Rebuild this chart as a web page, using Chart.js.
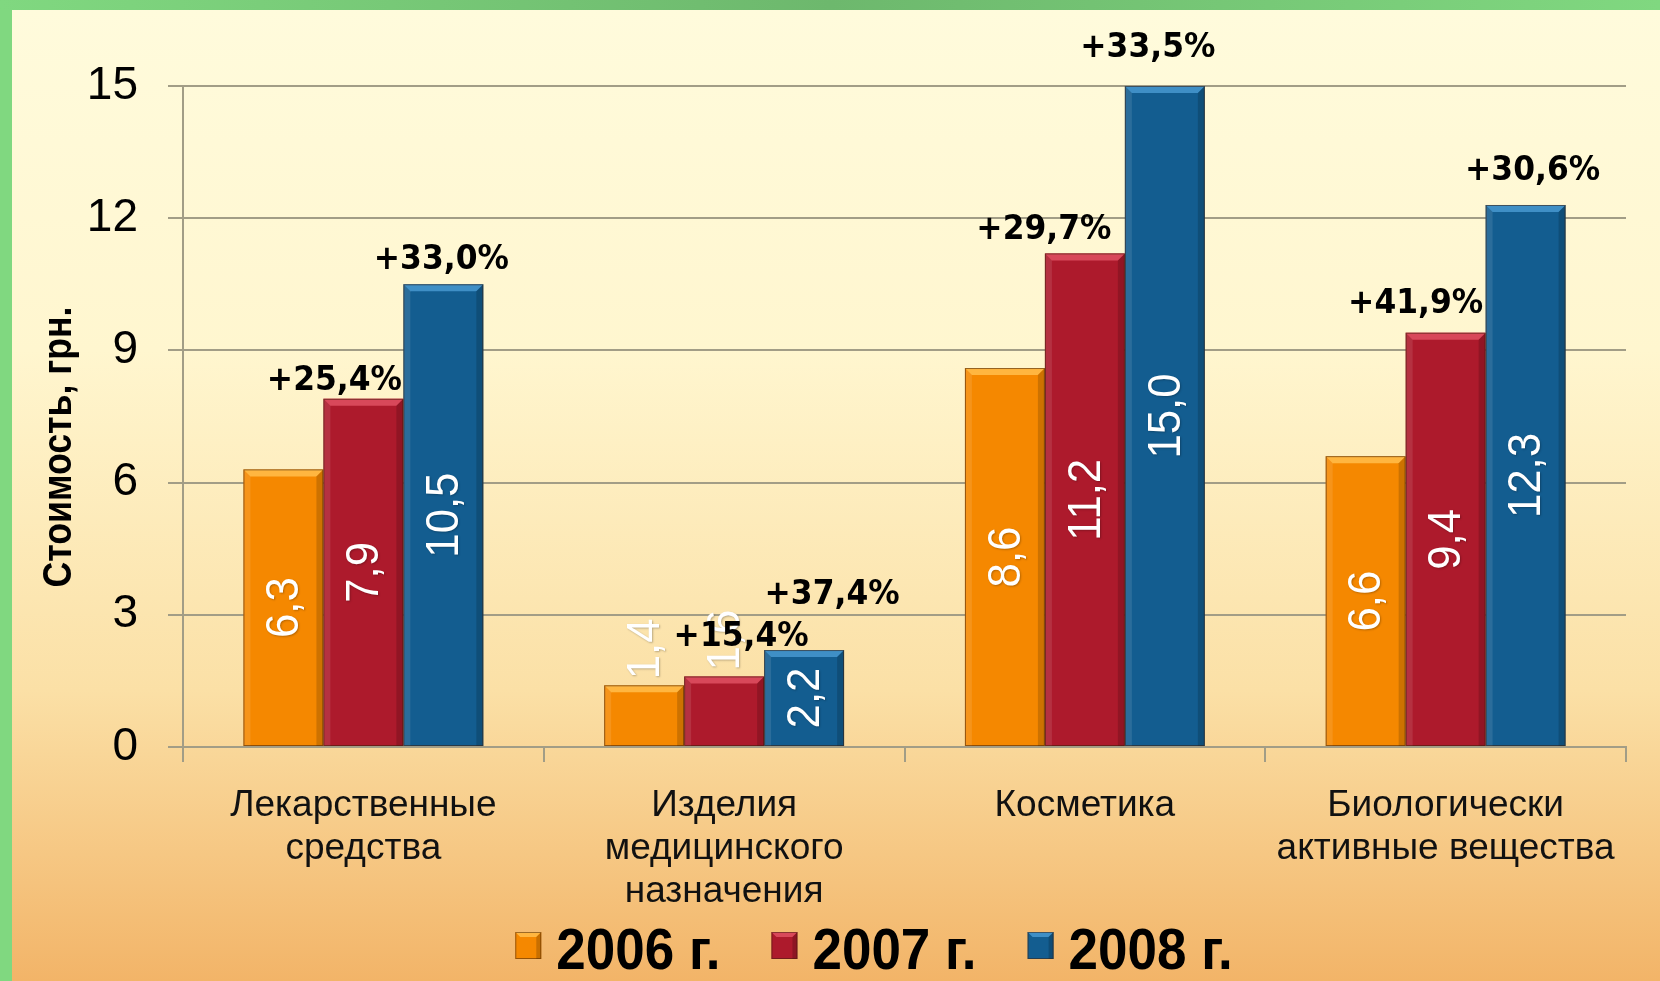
<!DOCTYPE html>
<html>
<head>
<meta charset="utf-8">
<script src="https://cdn.jsdelivr.net/npm/chart.js@4.4.1/dist/chart.umd.min.js"></script>
<style>
  html, body { margin: 0; padding: 0; overflow: hidden; background: #7bd17b; }
  canvas { display: block; }
</style>
</head>
<body>
<canvas id="c" width="1660" height="981"></canvas>
<script>
// ---- data ----
const categories = [
  ['Лекарственные', 'средства'],
  ['Изделия', 'медицинского', 'назначения'],
  ['Косметика'],
  ['Биологически', 'активные вещества']
];
const seriesNames = ['2006 г.', '2007 г.', '2008 г.'];
const values2006 = [6.3, 1.4, 8.6, 6.6];
const values2007 = [7.9, 1.6, 11.2, 9.4];
const values2008 = [10.5, 2.2, 15.0, 12.3];
const growth2007 = ['+25,4%', '+15,4%', '+29,7%', '+41,9%'];
const growth2008 = ['+33,0%', '+37,4%', '+33,5%', '+30,6%'];
const yTickValues = [0, 3, 6, 9, 12, 15];
const yAxisTitle = 'Стоимость, грн.';

// ---- styles ----
const barColors = ['#f58800', '#ad1a2c', '#135d90'];
const bevelColors = ['#ffb640', '#d8485a', '#3f8fc6'];
const gridColor = '#a29d86';

// manual label offsets (px) for growth labels, like hand-placed labels in the source
const growthOffsets = {
  1: [[-29, -17], [17, -39], [-41, -23], [-30, -28]],
  2: [[-2, -24], [28, -55], [-17, -38], [7, -34]]
};

const fmt = v => v.toFixed(1).replace('.', ',');

const bgPlugin = {
  id: 'bg',
  beforeDraw(chart) {
    const ctx = chart.ctx;
    const W = chart.width, H = chart.height;
    ctx.save();
    const gg = ctx.createLinearGradient(0, 0, W, 0);
    gg.addColorStop(0, '#80d880');
    gg.addColorStop(0.5, '#6db86d');
    gg.addColorStop(1, '#80d880');
    ctx.fillStyle = '#80d880';
    ctx.fillRect(0, 0, W, H);
    ctx.fillStyle = gg;
    ctx.fillRect(0, 0, W, 10);
    const g = ctx.createLinearGradient(0, 10, 0, H);
    g.addColorStop(0, '#fffbdc');
    g.addColorStop(0.35, '#fff6cf');
    g.addColorStop(0.7, '#fbe0a6');
    g.addColorStop(1, '#f2b468');
    ctx.fillStyle = g;
    ctx.fillRect(12, 10, W - 12, H - 10);
    ctx.restore();
  }
};

const bevelPlugin = {
  id: 'bevel',
  afterDatasetsDraw(chart) {
    const ctx = chart.ctx;
    chart.data.datasets.forEach((ds, di) => {
      const meta = chart.getDatasetMeta(di);
      meta.data.forEach(el => {
        const L = el.x - el.width / 2, R = el.x + el.width / 2;
        const T = Math.min(el.y, el.base), B = Math.max(el.y, el.base);
        const b = 7;
        ctx.save();
        ctx.beginPath();
        ctx.moveTo(L, T); ctx.lineTo(R, T); ctx.lineTo(R - b, T + b); ctx.lineTo(L + b, T + b); ctx.closePath();
        ctx.fillStyle = bevelColors[di];
        ctx.fill();
        ctx.beginPath();
        ctx.moveTo(L, T); ctx.lineTo(L + b, T + b); ctx.lineTo(L + b, B); ctx.lineTo(L, B); ctx.closePath();
        ctx.fillStyle = 'rgba(255,255,255,0.10)';
        ctx.fill();
        ctx.beginPath();
        ctx.moveTo(R, T); ctx.lineTo(R - b, T + b); ctx.lineTo(R - b, B); ctx.lineTo(R, B); ctx.closePath();
        ctx.fillStyle = 'rgba(0,0,0,0.16)';
        ctx.fill();
        ctx.strokeStyle = 'rgba(60,30,10,0.55)';
        ctx.lineWidth = 1;
        ctx.strokeRect(L + 0.5, T + 0.5, R - L - 1, B - T - 1);
        ctx.restore();
      });
    });
  }
};

function drawScaledText(ctx, text, x, y, scaleX) {
  ctx.save();
  ctx.translate(x, y);
  ctx.scale(scaleX, 1);
  ctx.fillText(text, 0, 0);
  ctx.restore();
}

const labelsPlugin = {
  id: 'labels',
  afterDatasetsDraw(chart) {
    const ctx = chart.ctx;
    chart.data.datasets.forEach((ds, di) => {
      const meta = chart.getDatasetMeta(di);
      meta.data.forEach((el, i) => {
        const txt = fmt(ds.data[i]);
        ctx.save();
        ctx.font = '46px "Liberation Sans", Arial, sans-serif';
        const w = ctx.measureText(txt).width * 0.95;
        const h = el.base - el.y;
        let cy;
        if (w + 12 > h) cy = el.y - 6 - w / 2;
        else cy = (el.y + el.base) / 2;
        ctx.translate(el.x + 2, cy);
        ctx.rotate(-Math.PI / 2);
        ctx.scale(0.95, 1);
        ctx.fillStyle = '#ffffff';
        ctx.textAlign = 'center';
        ctx.textBaseline = 'middle';
        ctx.shadowColor = 'rgba(0,0,0,0.25)';
        ctx.shadowBlur = 2;
        ctx.shadowOffsetX = 1;
        ctx.shadowOffsetY = 1;
        ctx.fillText(txt, 0, 0);
        ctx.restore();
      });
    });
    const growth = {1: growth2007, 2: growth2008};
    [1, 2].forEach(di => {
      const meta = chart.getDatasetMeta(di);
      meta.data.forEach((el, i) => {
        const off = growthOffsets[di][i];
        ctx.save();
        ctx.font = 'bold 33px "DejaVu Sans", Verdana, sans-serif';
        ctx.fillStyle = '#000';
        ctx.textAlign = 'center';
        ctx.textBaseline = 'middle';
        drawScaledText(ctx, growth[di][i], el.x + off[0], el.y + off[1], 0.95);
        ctx.restore();
      });
    });
  }
};

const extrasPlugin = {
  id: 'extras',
  afterDraw(chart) {
    const ctx = chart.ctx;
    ctx.save();
    ctx.translate(60, 447);
    ctx.rotate(-Math.PI / 2);
    ctx.font = 'bold 40px "Liberation Sans", Arial, sans-serif';
    const tw = ctx.measureText(yAxisTitle).width;
    ctx.scale(281 / tw, 1);
    ctx.fillStyle = '#000';
    ctx.textAlign = 'center';
    ctx.textBaseline = 'middle';
    ctx.fillText(yAxisTitle, 0, 0);
    ctx.restore();

    ctx.save();
    ctx.font = 'bold 57px "Liberation Sans", Arial, sans-serif';
    const sx = 0.93, box = 26, gapBox = 15, gapItem = 51;
    const widths = seriesNames.map(n => ctx.measureText(n).width * sx);
    const total = widths.reduce((a, w) => a + w + box + gapBox, 0) + gapItem * (seriesNames.length - 1);
    let x = 874 - total / 2;
    const baseY = 969;
    seriesNames.forEach((n, i) => {
      const by = 932;
      ctx.fillStyle = barColors[i];
      ctx.fillRect(x, by, box, box + 1);
      const b = 5;
      ctx.beginPath();
      ctx.moveTo(x, by); ctx.lineTo(x + box, by); ctx.lineTo(x + box - b, by + b); ctx.lineTo(x + b, by + b); ctx.closePath();
      ctx.fillStyle = bevelColors[i]; ctx.fill();
      ctx.beginPath();
      ctx.moveTo(x + box, by); ctx.lineTo(x + box - b, by + b); ctx.lineTo(x + box - b, by + box + 1); ctx.lineTo(x + box, by + box + 1); ctx.closePath();
      ctx.fillStyle = 'rgba(0,0,0,0.18)'; ctx.fill();
      ctx.strokeStyle = 'rgba(60,30,10,0.5)'; ctx.lineWidth = 1;
      ctx.strokeRect(x + 0.5, by + 0.5, box - 1, box);
      x += box + gapBox;
      ctx.fillStyle = '#000';
      ctx.textAlign = 'left';
      ctx.textBaseline = 'alphabetic';
      drawScaledText(ctx, n, x, baseY, sx);
      x += widths[i] + gapItem;
    });
    ctx.restore();
  }
};

const chart = new Chart(document.getElementById('c'), {
  type: 'bar',
  data: {
    labels: categories,
    datasets: [
      { label: seriesNames[0], data: values2006, backgroundColor: barColors[0] },
      { label: seriesNames[1], data: values2007, backgroundColor: barColors[1] },
      { label: seriesNames[2], data: values2008, backgroundColor: barColors[2] }
    ]
  },
  options: {
    responsive: false,
    animation: false,
    devicePixelRatio: 1,
    layout: { padding: { top: 86, right: 34, bottom: 0, left: 0 } },
    datasets: { bar: { categoryPercentage: 0.665, barPercentage: 1.0, borderWidth: 0 } },
    plugins: { legend: { display: false }, tooltip: { enabled: false }, title: { display: false } },
    scales: {
      x: {
        grid: { display: true, drawOnChartArea: false, drawTicks: true, tickLength: 15, color: gridColor, lineWidth: 2, offset: true },
        border: { display: true, color: gridColor, width: 2 },
        ticks: { color: '#111', font: { family: '"Liberation Sans", Arial, sans-serif', size: 37, lineHeight: 1.16 }, padding: 22, maxRotation: 0, autoSkip: false },
        afterFit: s => { s.height = 234; }
      },
      y: {
        min: 0, max: 15,
        afterBuildTicks: s => { s.ticks = yTickValues.map(v => ({ value: v })); },
        grid: { color: gridColor, lineWidth: 2, tickLength: 15 },
        border: { display: true, color: gridColor, width: 2 },
        ticks: { color: '#000', font: { family: '"Liberation Sans", Arial, sans-serif', size: 46 }, padding: 30 },
        afterFit: s => { s.width = 183; }
      }
    }
  },
  plugins: [bgPlugin, bevelPlugin, labelsPlugin, extrasPlugin]
});
</script>
</body>
</html>
